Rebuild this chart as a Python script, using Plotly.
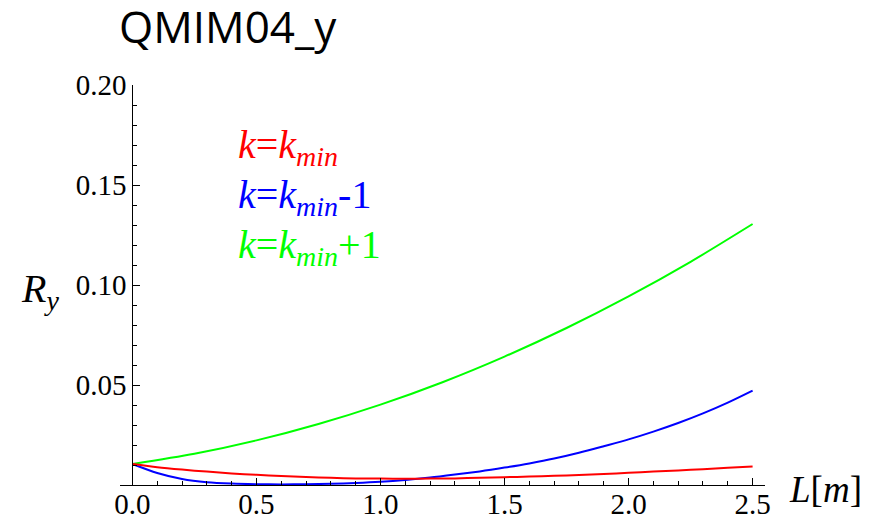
import plotly.graph_objects as go

# Data
L_fine = [0.0, 0.1, 0.2, 0.3, 0.4, 0.5, 0.6, 0.7, 0.8, 0.9, 1.0, 1.1, 1.2, 1.3,
          1.4, 1.5, 1.6, 1.7, 1.8, 1.9, 2.0, 2.1, 2.2, 2.3, 2.4, 2.5]
R_kmin = [0.0105, 0.0089, 0.0077, 0.0067, 0.0058, 0.0051, 0.0045, 0.0040, 0.0036,
          0.0033, 0.0032, 0.0031, 0.0032, 0.0033, 0.0036, 0.0039, 0.0042, 0.0046,
          0.0050, 0.0055, 0.0061, 0.0067, 0.0073, 0.0079, 0.0086, 0.0093]
R_kmin_minus1 = [0.0105, 0.0060, 0.0030, 0.0014, 0.0007, 0.0004, 0.0003, 0.0004,
                 0.0006, 0.0010, 0.0016, 0.0025, 0.0037, 0.0052, 0.0068, 0.0087,
                 0.0108, 0.0132, 0.0161, 0.0194, 0.0228, 0.0267, 0.0310, 0.0358,
                 0.0412, 0.0472]
L_coarse = [0.0, 0.25, 0.5, 0.75, 1.0, 1.25, 1.5, 1.75, 2.0, 2.25, 2.5]
R_kmin_plus1 = [0.0105, 0.0156, 0.0223, 0.0305, 0.0402, 0.0514, 0.0642, 0.0785,
                0.0943, 0.1116, 0.1305]

x_tickvals = [0.0, 0.5, 1.0, 1.5, 2.0, 2.5]
x_ticktext = ["0.0", "0.5", "1.0", "1.5", "2.0", "2.5"]
y_tickvals = [0.05, 0.10, 0.15, 0.20]
y_ticktext = ["0.05", "0.10", "0.15", "0.20"]

fig = go.Figure()
fig.add_trace(go.Scatter(x=L_coarse, y=R_kmin_plus1, mode="lines",
                         line=dict(color="#00ff00", width=2, shape="spline", smoothing=0.8),
                         name="k=kmin+1"))
fig.add_trace(go.Scatter(x=L_fine, y=R_kmin_minus1, mode="lines",
                         line=dict(color="#0000ff", width=2, shape="spline", smoothing=0.8),
                         name="k=kmin-1"))
fig.add_trace(go.Scatter(x=L_fine, y=R_kmin, mode="lines",
                         line=dict(color="#ff0000", width=2, shape="spline", smoothing=0.8),
                         name="k=kmin"))

serif = "Liberation Serif"
# the page body has an 8px margin, so the figure is 8px smaller and margins shifted
fig.update_layout(
    template="none",
    width=869, height=512,
    margin=dict(l=112, r=112, t=77, b=35, autoexpand=False),
    paper_bgcolor="white", plot_bgcolor="white",
    showlegend=False,
    xaxis=dict(range=[-0.05, 2.55], showgrid=False, zeroline=False, automargin=False,
               showline=True, linecolor="black", linewidth=1,
               ticks="inside", ticklen=7, tickcolor="black", tickwidth=1,
               ticklabelstandoff=-7,
               tickmode="array", tickvals=x_tickvals, ticktext=x_ticktext,
               tickfont=dict(family=serif, size=29, color="black"),
               minor=dict(tickmode="linear", tick0=0, dtick=0.1, ticks="inside",
                          ticklen=4, tickcolor="black", tickwidth=1, showgrid=False)),
    yaxis=dict(range=[0, 0.2], showgrid=False, zeroline=False, automargin=False,
               anchor="free", position=12.4 / 645,
               showline=True, linecolor="black", linewidth=1,
               ticks="inside", ticklen=7, tickcolor="black", tickwidth=1,
               tickmode="array", tickvals=y_tickvals, ticktext=y_ticktext,
               tickfont=dict(family=serif, size=29, color="black"),
               minor=dict(tickmode="linear", tick0=0, dtick=0.01, ticks="inside",
                          ticklen=4, tickcolor="black", tickwidth=1, showgrid=False)),
)

# positions below are page pixels relative to the plot area (left 120, bottom 485)
annos = [
    dict(text="QMIM04_y", xref="paper", yref="paper", x=(117 - 120) / 645, y=(485 - 26) / 400,
         xanchor="left", yanchor="middle",
         font=dict(family="Open Sans", size=44, color="black")),
    dict(text="<i>R</i><sub><i>y</i></sub>", xref="paper", yref="paper",
         x=(40 - 120) / 645, y=(485 - 291) / 400, xanchor="center", yanchor="middle",
         font=dict(family=serif, size=40, color="black")),
    dict(text="<i>L</i>[<i>m</i>]", xref="paper", yref="paper",
         x=(825 - 120) / 645, y=(485 - 489) / 400, xanchor="center", yanchor="middle",
         font=dict(family=serif, size=37, color="black")),
    dict(text="<i>k</i>=<i>k</i><sub><i>min</i></sub>", xref="x", yref="y",
         x=0.417, y=(485 - 147) / 2000, xanchor="left", yanchor="middle",
         font=dict(family=serif, size=40, color="#ff0000")),
    dict(text="<i>k</i>=<i>k</i><sub><i>min</i></sub>-1", xref="x", yref="y",
         x=0.417, y=(485 - 197) / 2000, xanchor="left", yanchor="middle",
         font=dict(family=serif, size=40, color="#0000ff")),
    dict(text="<i>k</i>=<i>k</i><sub><i>min</i></sub>+1", xref="x", yref="y",
         x=0.417, y=(485 - 247) / 2000, xanchor="left", yanchor="middle",
         font=dict(family=serif, size=40, color="#00ff00")),
]
for a in annos:
    a["showarrow"] = False
    fig.add_annotation(**a)

fig.write_html("out.html")
